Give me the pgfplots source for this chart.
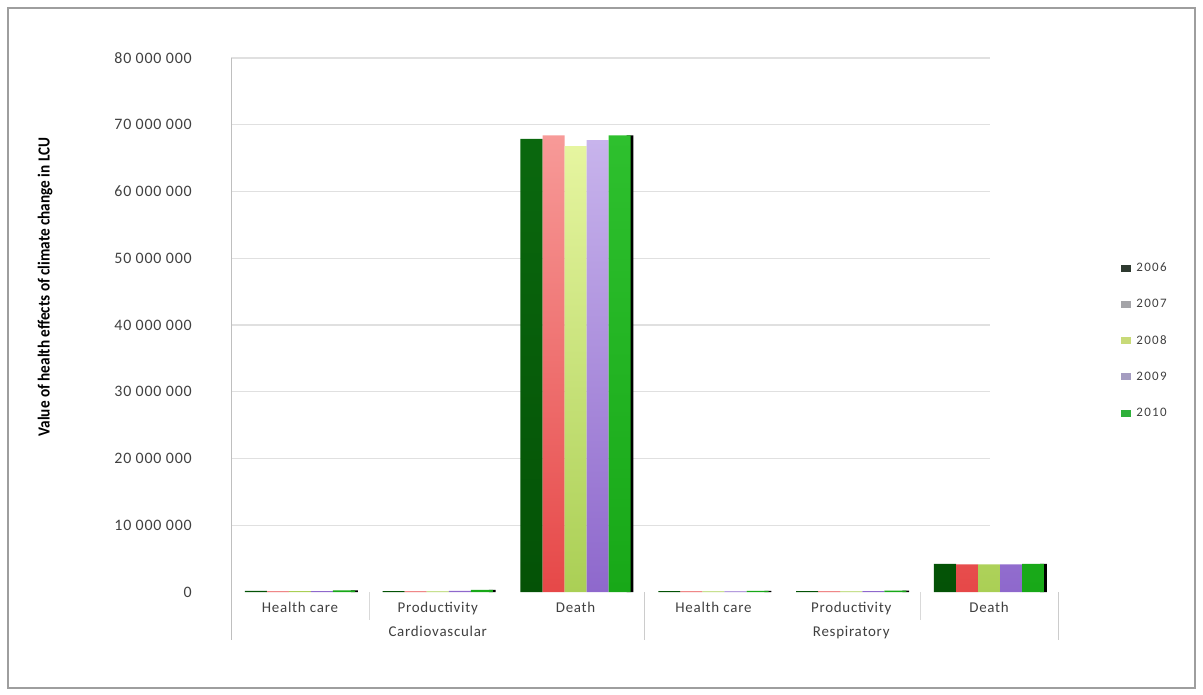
\documentclass[border=0pt]{standalone}
\usepackage{pgfplots}
\pgfplotsset{compat=1.18}
\usepackage{pgfplotstable}
\usepackage{fontspec}
\setmainfont{Carlito}[LetterSpace=5]
\newfontfamily\labelfont{Carlito}[FakeStretch=0.9]
\newfontfamily\legfont{Carlito}[LetterSpace=10]
\definecolor{txt}{HTML}{404040}
% bar colours (top / bottom of gradient)
\definecolor{aT}{HTML}{0A680E}\definecolor{aB}{HTML}{045206}
\definecolor{bT}{HTML}{F79A98}\definecolor{bB}{HTML}{E64848}
\definecolor{cT}{HTML}{E6F5A0}\definecolor{cB}{HTML}{AACF55}
\definecolor{dT}{HTML}{C8B4EC}\definecolor{dB}{HTML}{8E68CC}
\definecolor{eT}{HTML}{2EC02E}\definecolor{eB}{HTML}{18A818}
% legend colours as in the reference
\definecolor{la}{HTML}{2E3A30}\definecolor{lb}{HTML}{A4A4A8}
\definecolor{lc}{HTML}{C8DA78}\definecolor{ld}{HTML}{A49CC0}
\definecolor{le}{HTML}{2EB03A}

\pgfplotstableread{
x  y2006     y2007     y2008     y2009     y2010
0  150000    100000    120000    130000    250000
1  120000    90000     100000    150000    300000
2  67900000  68400000  66800000  67700000  68400000
3  140000    90000     100000    110000    160000
4  130000    90000     100000    120000    220000
5  4200000   4150000   4150000   4150000   4200000
}\datatable

\begin{document}
\begin{tikzpicture}
\path (0,0) rectangle (1203bp,695bp);
\draw[line width=2bp, color=black!38] (8bp,7bp) rectangle (1195bp,687bp);
\node[rotate=90, font=\labelfont\bfseries\fontsize{17}{19}\selectfont, text=black] at (45bp,408bp)
  {Value of health effects of climate change in LCU};
\begin{axis}[
  at={(231bp,103bp)}, anchor=south west,
  scale only axis, width=827bp, height=534bp,
  xmin=-0.5, xmax=5.5, ymin=0, ymax=80000000,
  clip=false,
  scaled y ticks=false,
  axis line style={draw=none},
  major tick length=0pt,
  xtick={0,1,2,3,4,5},
  xticklabels={Health care,Productivity,Death,Health care,Productivity,Death},
  ytick={0,10000000,20000000,30000000,40000000,50000000,60000000,70000000,80000000},
  yticklabels={0,10 000 000,20 000 000,30 000 000,40 000 000,50 000 000,60 000 000,70 000 000,80 000 000},
  xticklabel style={anchor=base, yshift=-20bp, font=\fontsize{15}{18}\selectfont, text=txt},
  yticklabel style={anchor=east, inner sep=0pt, xshift=-39bp, font=\fontsize{16}{18}\selectfont, text=txt},
  legend style={at={(rel axis cs:1.076,0.619)}, anchor=north west, draw=none, fill=none,
     font=\legfont\fontsize{13}{15}\selectfont, text=txt, row sep=24.2bp, inner sep=0pt,
     nodes={inner sep=1bp}},
  legend cell align=left,
  legend image code/.code={\fill[#1] (0bp,-3bp) rectangle (9bp,3bp);},
  /tikz/every even column/.append style={column sep=0bp},
  /tikz/every odd column/.append style={column sep=5bp},
]
% grid lines and separators
\pgfplotsinvokeforeach{10000000,20000000,30000000,40000000,50000000,60000000,70000000,80000000}{
  \draw[black!12, line width=1.2bp] (axis cs:-0.5,#1) -- (axis cs:5.01,#1);
}
\draw[black!25] (axis cs:-0.5,80000000) -- ([yshift=-48bp]axis cs:-0.5,0);
\draw[black!20] (axis cs:2.5,0) -- ([yshift=-48bp]axis cs:2.5,0);
\draw[black!20] (axis cs:5.5,0) -- ([yshift=-48bp]axis cs:5.5,0);
\draw[black!15] (axis cs:0.5,0) -- ([yshift=-28bp]axis cs:0.5,0);
\draw[black!15] (axis cs:4.5,0) -- ([yshift=-28bp]axis cs:4.5,0);
\node[font=\fontsize{15}{18}\selectfont, text=txt, anchor=base] at ([yshift=-44.5bp]axis cs:1,0) {Cardiovascular};
\node[font=\fontsize{15}{18}\selectfont, text=txt, anchor=base] at ([yshift=-44.5bp]axis cs:4,0) {Respiratory};

\addlegendimage{la}\addlegendentry{2006}
\addlegendimage{lb}\addlegendentry{2007}
\addlegendimage{lc}\addlegendentry{2008}
\addlegendimage{ld}\addlegendentry{2009}
\addlegendimage{le}\addlegendentry{2010}

% dark 3-D edge on the right of each group
\addplot[ybar, forget plot, bar width=0.05, bar shift=0.395, draw=none, fill=black] table[x=x,y=y2010]{\datatable};
\addplot[ybar, forget plot, bar width=0.16, bar shift=-0.32, draw=none, top color=aT, bottom color=aB] table[x=x,y=y2006]{\datatable};
\addplot[ybar, forget plot, bar width=0.16, bar shift=-0.16, draw=none, top color=bT, bottom color=bB] table[x=x,y=y2007]{\datatable};
\addplot[ybar, forget plot, bar width=0.16, bar shift=0, draw=none, top color=cT, bottom color=cB] table[x=x,y=y2008]{\datatable};
\addplot[ybar, forget plot, bar width=0.16, bar shift=0.16, draw=none, top color=dT, bottom color=dB] table[x=x,y=y2009]{\datatable};
\addplot[ybar, forget plot, bar width=0.16, bar shift=0.32, draw=none, top color=eT, bottom color=eB] table[x=x,y=y2010]{\datatable};
\end{axis}
\end{tikzpicture}
\end{document}
